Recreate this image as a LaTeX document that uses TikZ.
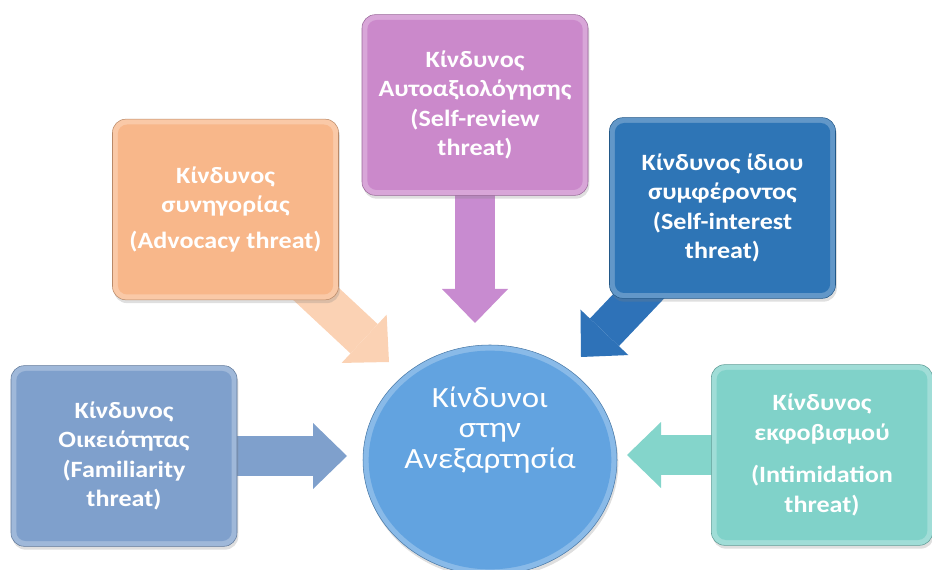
\documentclass[tikz,border=0pt]{standalone}
\usepackage{fontspec}
\setmainfont{Carlito}[FakeStretch=1.12]
\usetikzlibrary{arrows.meta,shapes.geometric,shadows,backgrounds}
\definecolor{famcol}{HTML}{7FA0CC}
\definecolor{advcol}{HTML}{F8B78A}
\definecolor{advflow}{HTML}{FBD2B4}
\definecolor{revcol}{HTML}{CB89CB}
\definecolor{revflow}{HTML}{C88BD0}
\definecolor{intcol}{HTML}{2E75B6}
\definecolor{intflow}{HTML}{2E72B8}
\definecolor{imtcol}{HTML}{80D2C9}
\definecolor{imtflow}{HTML}{84D5CB}
\definecolor{hubcol}{HTML}{62A3E0}
\tikzset{
  every picture/.style={line join=round},
  threatbox/.style={rectangle, rounded corners=10pt, draw=#1!75!black, line width=0.4pt,
    fill=#1!75!white, minimum width=169.5pt, minimum height=135.5pt, inner sep=0pt,
    align=center, text=white, font=\fontsize{17.5}{22}\selectfont\bfseries,
    drop shadow={opacity=0.25, shadow xshift=1pt, shadow yshift=-2.5pt},
    path picture={\fill[#1, rounded corners=7pt]
      ([xshift=4pt,yshift=-4pt]path picture bounding box.north west) rectangle
      ([xshift=-4pt,yshift=4pt]path picture bounding box.south east);}},
  hub/.style={ellipse, draw=hubcol!75!black, line width=0.4pt, fill=hubcol!75!white,
    minimum width=190.5pt, minimum height=172.5pt, inner sep=0pt,
    drop shadow={opacity=0.25, shadow xshift=1pt, shadow yshift=-2.5pt},
    path picture={\fill[hubcol] (path picture bounding box.center)
      ellipse [x radius=91pt, y radius=82pt];}},
  hubtext/.style={align=center, text=white, font=\fontsize{22}{23}\selectfont},
  flow/.style={draw=#1, line width=30pt,
    -{Triangle[length=25.5pt 0, width=49.5pt 0, line width=0pt 0]}},
}

\begin{document}
\begin{tikzpicture}[x=0.75pt,y=-0.75pt]
\useasboundingbox (0,0) rectangle (932,570);
% the five threats
\node[threatbox=famcol] (fam) at (124,456) {Κίνδυνος\\Οικειότητας\\(Familiarity\\threat)};
\node[threatbox=advcol] (adv) at (225.5,209.5) {Κίνδυνος\\συνηγορίας\\[5pt](Advocacy threat)};
\node[threatbox=revcol] (rev) at (475,105) {Κίνδυνος\\Αυτοαξιολόγησης\\(Self-review\\threat)};
\node[threatbox=intcol] (int) at (722.5,208) {Κίνδυνος ίδιου\\συμφέροντος\\(Self-interest\\threat)};
\node[threatbox=imtcol, minimum width=166pt] (imt) at (822,455) {Κίνδυνος\\εκφοβισμού\\[10pt](Intimidation\\threat)};
% centre
\node[hub, label={[hubtext, yshift=22.5pt]center:{Κίνδυνοι\\στην\\Ανεξαρτησία}}] (ctr) at (490,460) {};
% arrow tips
\coordinate (famtip) at (347,456);
\coordinate (advtip) at (389,362);
\coordinate (revtip) at (475,323);
\coordinate (inttip) at (581,357);
\coordinate (imttip) at (627,455);
\begin{scope}[on background layer]
\draw[flow=famcol] (fam.center) -- (famtip);
\draw[flow=advflow] (adv.center) -- (advtip);
\draw[flow=revflow] (rev.center) -- (revtip);
\draw[flow=intflow] (int.center) -- (inttip);
\draw[flow=imtflow] (imt.center) -- (imttip);
\end{scope}
\end{tikzpicture}
\end{document}
